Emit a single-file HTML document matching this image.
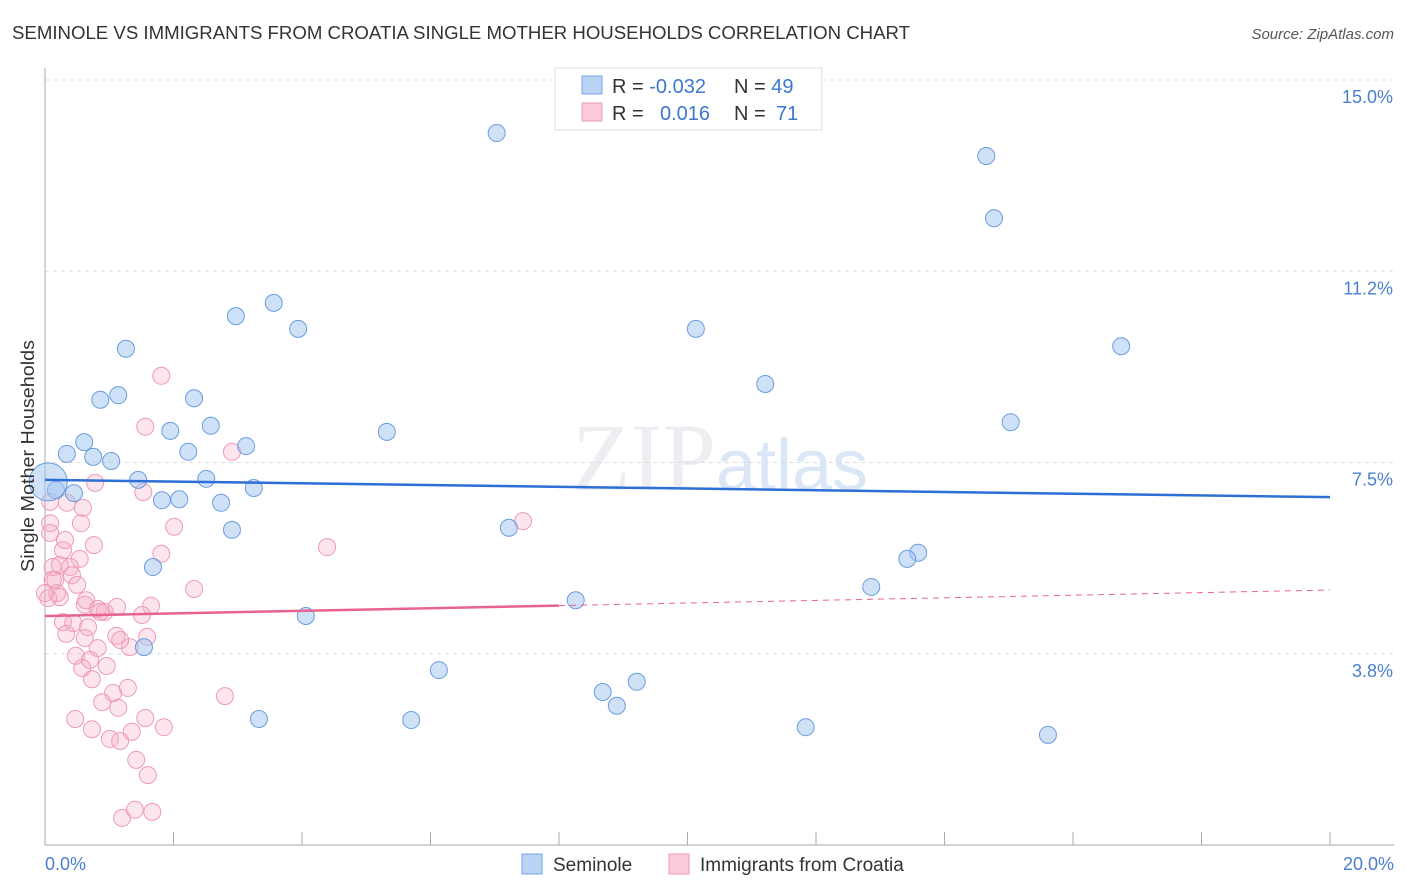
<!DOCTYPE html>
<html><head><meta charset="utf-8"><style>
body{margin:0;background:#fff;font-family:"Liberation Sans",sans-serif;}
svg{display:block}
</style></head><body>
<svg id="chart" width="1406" height="892">
<text x="12" y="39" font-size="18" fill="#333" textLength="898" lengthAdjust="spacingAndGlyphs">SEMINOLE VS IMMIGRANTS FROM CROATIA SINGLE MOTHER HOUSEHOLDS CORRELATION CHART</text>
<text x="1394" y="39" font-size="15" fill="#555" font-style="italic" text-anchor="end">Source: ZipAtlas.com</text>
<text x="720" y="490" font-size="96" fill="#eceef2" text-anchor="middle" font-family="Liberation Serif,serif">ZIP<tspan fill="#dbe7f6" font-family="Liberation Sans,sans-serif" font-size="72">atlas</tspan></text>
<g id="grid"></g>
<g id="axes"></g>
<g id="pts"></g>
<g id="lines"></g>
<text transform="translate(34,456) rotate(-90)" font-size="18" fill="#333" text-anchor="middle" textLength="232" lengthAdjust="spacingAndGlyphs">Single Mother Households</text>
<text x="45" y="870" font-size="18" fill="#4a80d0">0.0%</text>
<text x="1394" y="870" font-size="18" fill="#4a80d0" text-anchor="end">20.0%</text>
<g>
<rect x="555" y="68" width="267" height="62" fill="#fff" stroke="#ddd"/>
<rect x="582" y="76" width="20" height="18" fill="#b9d3f5" stroke="#7aa6e4"/>
<rect x="582" y="103" width="20" height="18" fill="#fbcbd9" stroke="#f09ab7"/>
<text x="612" y="93" font-size="20" fill="#333">R = <tspan fill="#3b78d0">-0.032</tspan><tspan x="734">N = </tspan><tspan fill="#3b78d0">49</tspan></text>
<text x="612" y="120" font-size="20" fill="#333">R = <tspan x="660" fill="#3b78d0">0.016</tspan><tspan x="734">N = </tspan><tspan x="776" fill="#3b78d0">71</tspan></text>
</g>
<g>
<rect x="522" y="854" width="20" height="20" fill="#b9d3f5" stroke="#7aa6e4"/>
<text x="553" y="871" font-size="19" fill="#333">Seminole</text>
<rect x="669" y="854" width="20" height="20" fill="#fbcbd9" stroke="#f09ab7"/>
<text x="700" y="871" font-size="19" fill="#333">Immigrants from Croatia</text>
</g>
</svg>
<script>
const yTicks=[3.75,7.5,11.25,15];
const yTickLabels=["3.8%","7.5%","11.2%","15.0%"];
const blueX=[7.03,14.65,14.77,3.56,2.97,3.94,10.13,16.75,1.26,11.21,1.14,0.86,2.32,15.03,2.58,1.95,5.32,0.61,3.13,0.34,2.23,0.75,1.03,1.45,2.51,3.25,0.17,0.45,2.09,1.82,2.74,7.22,2.91,13.59,13.42,1.68,12.86,8.26,4.06,1.54,6.13,8.68,9.21,8.90,3.33,5.70,11.84,15.61,0.05];
const blueY=[13.96,13.51,12.29,10.63,10.37,10.12,10.12,9.78,9.73,9.04,8.82,8.73,8.76,8.29,8.22,8.12,8.10,7.90,7.82,7.67,7.71,7.61,7.53,7.16,7.18,7.00,6.96,6.90,6.78,6.76,6.71,6.22,6.18,5.73,5.61,5.45,5.06,4.80,4.49,3.88,3.43,3.00,3.20,2.73,2.47,2.45,2.31,2.16,7.12];
const pinkX=[1.81,1.56,2.91,0.78,1.53,0.34,0.59,0.08,0.08,0.56,0.08,2.01,0.76,0.28,0.54,1.81,0.12,0.39,0.42,0.12,0.50,0.19,0.23,2.32,0.62,0.82,0.93,1.12,1.65,1.51,0.28,0.44,0.67,0.33,0.62,1.11,1.59,0.82,1.32,0.48,0.58,0.96,0.73,1.06,1.29,0.89,1.14,2.80,0.47,0.73,1.56,1.85,1.01,1.17,1.35,1.42,1.60,1.20,1.40,1.67,4.39,7.44,0.05,0.16,0.31,0.64,0.86,0.23,0.00,1.17,0.70];
const pinkY=[9.20,8.20,7.71,7.10,6.92,6.71,6.61,6.73,6.31,6.31,6.12,6.24,5.88,5.78,5.61,5.71,5.45,5.45,5.29,5.20,5.10,4.94,4.86,5.02,4.71,4.63,4.57,4.67,4.69,4.51,4.37,4.35,4.27,4.14,4.06,4.10,4.08,3.86,3.88,3.71,3.47,3.51,3.25,2.98,3.08,2.80,2.69,2.92,2.47,2.27,2.49,2.31,2.08,2.04,2.22,1.67,1.37,0.53,0.69,0.65,5.84,6.35,4.84,5.20,5.98,4.80,4.57,5.49,4.94,4.02,3.63];
const blueTrend=[7.16,6.82];
const pinkTrend=[4.49,5.0];
const pinkSolidEnd=8.0;
const NS="http://www.w3.org/2000/svg";
const X=v=>45+v/20*1285;
const Y=v=>845-v/15*765;
function mk(t,a,p){const e=document.createElementNS(NS,t);for(const k in a)e.setAttribute(k,a[k]);document.getElementById(p).appendChild(e);return e;}
yTicks.forEach((t,i)=>{
 const l=mk('line',{x1:45,x2:1394,y1:Y(t),y2:Y(t),stroke:'#ddd','stroke-dasharray':'4,4'},'grid');
 
 
 const tx=mk('text',{x:1393,y:Y(t)+23,'font-size':18,fill:'#4a80d0','text-anchor':'end'},'grid');
 tx.textContent=yTickLabels[i];
 
 
});
const ax=mk('line',{x1:45,x2:45,y1:68,y2:845,stroke:'#aaa'},'axes');


const bx=mk('line',{x1:45,x2:1394,y1:845,y2:845,stroke:'#aaa'},'axes');


for(let i=0;i<=10;i++){
 const t=mk('line',{x1:X(i*2),x2:X(i*2),y1:832,y2:845,stroke:'#aaa'},'axes');
 
 
}
pinkX.forEach((v,i)=>{
 const c=mk('circle',{cx:X(v),cy:Y(pinkY[i]),r:8.5,fill:'rgba(245,170,196,0.3)',stroke:'#ee9ab8','stroke-width':1},'pts');
 
 
});
blueX.forEach((v,i)=>{
 const big=i===blueX.length-1;
 const c=mk('circle',{cx:X(v),cy:Y(blueY[i]),r:big?19:8.5,fill:'rgba(160,195,240,0.5)',stroke:'#6a9de0','stroke-width':1},'pts');
 
 
});
const bl=mk('line',{x1:X(0),x2:X(20),y1:Y(blueTrend[0]),y2:Y(blueTrend[1]),stroke:'#2d6fd6','stroke-width':2.5},'lines');


const pm=pinkTrend[0]+(pinkTrend[1]-pinkTrend[0])*pinkSolidEnd/20;
const pl=mk('line',{x1:X(0),x2:X(pinkSolidEnd),y1:Y(pinkTrend[0]),y2:Y(pm),stroke:'#e8638f','stroke-width':2.5},'lines');


const pd=mk('line',{x1:X(pinkSolidEnd),x2:X(20),y1:Y(pm),y2:Y(pinkTrend[1]),stroke:'#e8638f','stroke-width':1,'stroke-dasharray':'6,5'},'lines');


</script>
</body></html>
